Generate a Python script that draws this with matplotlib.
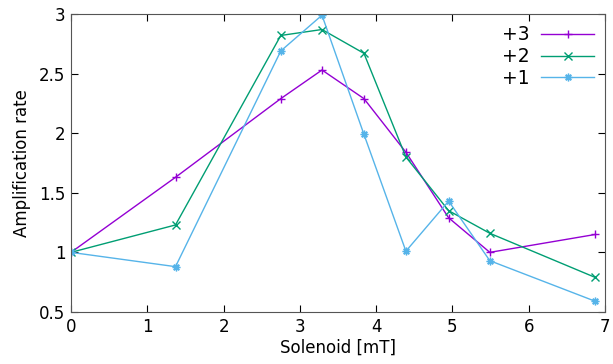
import numpy as np
import matplotlib.pyplot as plt

# solenoid field [mT]
field = [0, 1.37, 2.75, 3.29, 3.84, 4.39, 4.95, 5.49, 6.87]

# amplification rate per setting
amp_p3 = [1.00, 1.63, 2.29, 2.53, 2.29, 1.84, 1.29, 1.00, 1.15]
amp_p2 = [1.00, 1.23, 2.82, 2.87, 2.67, 1.80, 1.35, 1.16, 0.79]
amp_p1 = [1.00, 0.88, 2.69, 2.99, 1.99, 1.01, 1.43, 0.93, 0.59]

labels = ["+3", "+2", "+1"]
colors = ["#9400d3", "#009e73", "#56b4e9"]
markers = ["+", "x", (8, 2, 0)]

fig = plt.figure(figsize=(6.13, 3.64), dpi=100)
ax = fig.add_axes([0.1158, 0.143, 0.8712, 0.8185])

for y, lab, c, m in zip([amp_p3, amp_p2, amp_p1], labels, colors, markers):
    ax.plot(field, y, color=c, marker=m, lw=1, ms=5.5, mew=1, label=lab)

ax.set_xlim(0, 7)
ax.set_ylim(0.5, 3)
ax.set_xticks(np.arange(0, 8, 1))
ax.set_yticks(np.arange(0.5, 3.01, 0.5))
ax.set_yticklabels(["0.5", "1", "1.5", "2", "2.5", "3"])
ax.tick_params(direction="in", top=True, right=True, labelsize=12, length=5, pad=4)
for s in ax.spines.values():
    s.set_color("#555555")

ax.set_xlabel("Solenoid [mT]", fontsize=12, labelpad=2)
ax.set_ylabel("Amplification rate", fontsize=12, labelpad=6)

ax.legend(loc="upper right", frameon=False, markerfirst=False, fontsize=13.5,
          handlelength=2.8, handletextpad=0.6, labelspacing=0.15,
          borderaxespad=0.3, borderpad=0.3)

fig.savefig("out.png", dpi=100)
